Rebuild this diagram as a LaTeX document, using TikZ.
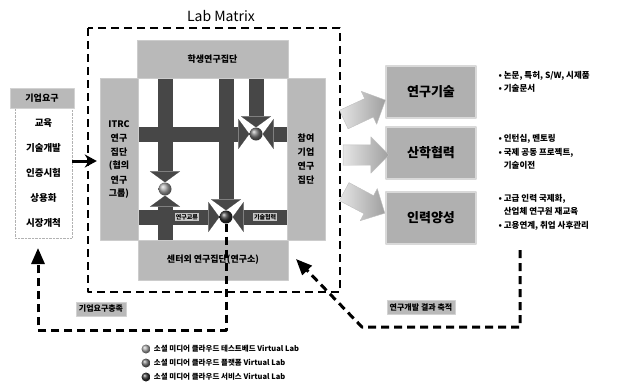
\documentclass[tikz,border=0pt]{standalone}
\usepackage{fontspec}
\setmainfont{Noto Sans CJK KR}
\usetikzlibrary{arrows.meta,shapes.arrows,positioning}
\pgfdeclarelayer{bg}
\pgfsetlayers{bg,main}
\tikzset{
  grp/.style={draw=gray!40,fill=gray!55,inner sep=0pt,align=center,font=\bfseries\fontsize{9}{14}\selectfont},
  outbox/.style={draw=gray!30,line width=2pt,fill=gray!62,minimum width=90pt,minimum height=52pt,font=\bfseries\fontsize{13}{14}\selectfont},
  bar/.style={line width=15pt,draw=black!72,-{Triangle[length=11pt,width=30pt,line width=0.1pt]}},
  barlab/.style={fill=gray!45,inner sep=1pt,line width=0.4pt,font=\bfseries\fontsize{6}{6}\selectfont},
  vlab/.style={circle,inner sep=0pt,minimum size=13pt,ball color=black!55},
  fatarrow/.style={single arrow,inner sep=10pt,minimum height=46pt,single arrow head extend=8pt,left color=gray!20,right color=gray!75,draw=gray!50},
  note/.style={anchor=west,align=left,font=\bfseries\fontsize{8.5}{13.5}\selectfont},
  tag/.style={fill=gray!55,draw=gray!35,inner sep=3pt,font=\bfseries\fontsize{8}{9}\selectfont},
  lnk/.style={draw=black,line width=3pt,dash pattern=on 8pt off 5pt},
  bighead/.style={-{Triangle[length=16pt,width=13pt]}},
}
\begin{document}
\begin{tikzpicture}[x=1pt,y=-1pt,line join=round]
\useasboundingbox (0,0) rectangle (634,386);
\node[font=\fontsize{14}{14}\selectfont] (title) at (221,16) {Lab Matrix};
\draw[lnk,line width=2.2pt] (88,28) rectangle (340,292);

\node[grp,minimum width=151pt,minimum height=38pt] (stu) at (212.5,59) {학생연구집단};
\node[grp,minimum width=38pt,minimum height=162pt] (itrc) at (119,159) {};
\foreach \w [count=\i] in {ITRC,연구,집단,{(협의},연구,{그룹)}}
  \node[inner sep=0pt,font=\bfseries\fontsize{9}{10}\selectfont] (itrc\i) at (119,110+14*\i) {\w};
\node[grp,minimum width=38pt,minimum height=162pt] (corp) at (306,159) {참여\\기업\\연구\\집단};
\node[grp,minimum width=150pt,minimum height=40pt] (ctr) at (213,260) {센터외 연구집단(연구소)};

\node[vlab,ball color=black!35] (tb) at (165,189) {};
\node[vlab] (pf) at (256,134) {};
\node[vlab,ball color=black!80] (sv) at (226,217) {};

\begin{pgfonlayer}{bg}
\draw[bar] (itrc.east |- pf) -- (pf.west);
\draw[bar] (corp.west |- pf) -- (pf.east);
\foreach \b in {tb,pf,sv} \draw[bar] (stu.south -| \b) -- (\b.north);
\draw[bar] (ctr.north -| tb) -- (tb.south);
\draw[bar] (itrc.east |- sv) -- (sv.west) node[barlab,pos=.6] {연구교류};
\draw[bar] (corp.west |- sv) -- (sv.east) node[barlab,pos=.4] {기술협력};
\end{pgfonlayer}

\node[outbox] (rnd) at (431,92) {연구기술};
\node[outbox] (coop) at (431,153) {산학협력};
\node[outbox] (hr) at (431,218) {인력양성};
\node[fatarrow,rotate=25] (f1) at (360,112) {};
\node[fatarrow] (f2) at (361,155) {};
\node[fatarrow,rotate=-28] (f3) at (360,200) {};

\node[note] (n1) at (495,82) {• 논문, 특허, S/W, 시제품\\• 기술문서};
\node[note] (n2) at (495,152) {• 인턴십, 멘토링\\• 국제 공동 프로젝트,\\\phantom{• }기술이전};
\node[note] (n3) at (495,212) {• 고급 인력 국제화,\\\phantom{• }산업체 연구원 재교육\\• 고용연계, 취업 사후관리};

\node[draw=gray!60,densely dotted,minimum width=57pt,minimum height=130pt,align=center,font=\bfseries\fontsize{9.5}{25}\selectfont] (req) at (43.5,173) {교육\\기술개발\\인증시험\\상용화\\시장개척};
\node[tag,minimum width=64pt,minimum height=20pt,font=\bfseries\fontsize{9}{10}\selectfont] (reqhd) at (42,98) {기업요구};
\draw[-{Stealth[length=12pt,width=13pt]},line width=3pt,shorten >=3pt] (req.east |- 0,161) -- (itrc.west |- 0,161);

\coordinate (upin) at (38,248);
\coordinate (rdin) at (296,259);
\coordinate (hrtail) at (520,250);
\draw[lnk,bighead] (sv.south) -- (sv.south |- 0,330) -- (38,330) -- (upin);
\draw[lnk,bighead] (hrtail) -- (520,327) -- (362,327) -- (rdin);
\node[tag] (met) at (101,309) {기업요구충족};
\node[tag] (acc) at (421,307) {연구개발 결과 축적};

\foreach \kind/\c [count=\i] in {테스트베드/35,플랫폼/55,서비스/80}{
  \node[vlab,minimum size=9pt,ball color=black!\c] (lg\i) at (146,335+14*\i) {};
  \node[right=3pt of lg\i,inner sep=0pt,font=\bfseries\fontsize{7.5}{8}\selectfont] {소셜 미디어 클라우드 \kind\ Virtual Lab};
}
\end{tikzpicture}
\end{document}
